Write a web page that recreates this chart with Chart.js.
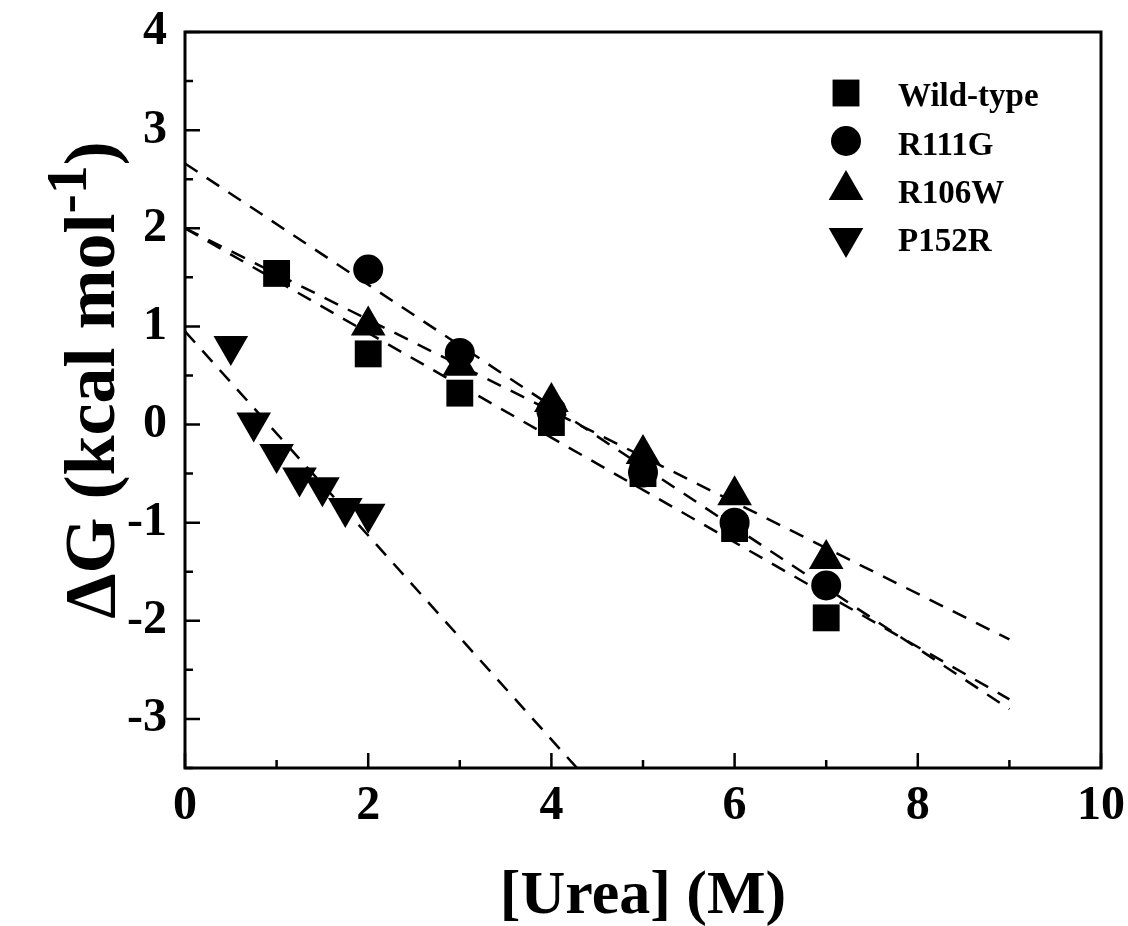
<!DOCTYPE html>
<html>
<head>
<meta charset="utf-8">
<script src="https://cdn.jsdelivr.net/npm/chart.js@4.4.0/dist/chart.umd.min.js"></script>
<style>
  html, body { margin: 0; padding: 0; background: #fff; }
  #wrap { width: 1128px; height: 926px; }
</style>
</head>
<body>
<div id="wrap"><canvas id="chart" width="1128" height="926"></canvas></div>
<script>
// values
const wtUrea = [1, 2, 3, 4, 5, 6, 7];
const wildType = [1.54, 0.72, 0.32, 0.02, -0.50, -1.06, -1.97];
const r111gUrea = [2, 3, 4, 5, 6, 7];
const r111g = [1.58, 0.73, 0.14, -0.49, -1.00, -1.64];
const r106wUrea = [2, 3, 4, 5, 6, 7];
const r106w = [1.01, 0.60, 0.23, -0.30, -0.72, -1.37];
const p152rUrea = [0.5, 0.75, 1.0, 1.25, 1.5, 1.75, 2.0];
const p152r = [0.80, 0.02, -0.30, -0.54, -0.64, -0.85, -0.91];

// dashed fit lines (end points)
const fitUrea = [0, 9];
const wtFit = [2.00, -2.80];
const r111gFit = [2.66, -2.90];
const r106wFit = [2.00, -2.19];
const p152rFitUrea = [0, 4.5];
const p152rFit = [0.95, -3.73];

const seriesNames = ['Wild-type', 'R111G', 'R106W', 'P152R'];

const serif = "'Liberation Serif', 'Times New Roman', serif";

function pts(xs, ys) {
    return xs.map((x, i) => ({ x: x, y: ys[i] }));
}

function markerSet(label, xs, ys, style, radius, rotation) {
    return {
        label: label,
        data: pts(xs, ys),
        pointStyle: style,
        pointRadius: radius,
        pointRotation: rotation || 0,
        pointBackgroundColor: '#000',
        pointBorderColor: '#000',
        pointBorderWidth: 0,
        showLine: false,
        order: 0
    };
}

function fitSet(xs, ys) {
    return {
        label: 'fit',
        data: pts(xs, ys),
        showLine: true,
        borderColor: '#000',
        borderWidth: 2.5,
        borderDash: [15, 11],
        pointRadius: 0,
        fill: false,
        order: 1
    };
}

const markers = [
    markerSet(seriesNames[0], wtUrea, wildType, 'rect', 19),
    markerSet(seriesNames[1], r111gUrea, r111g, 'circle', 15),
    markerSet(seriesNames[2], r106wUrea, r106w, 'triangle', 20),
    markerSet(seriesNames[3], p152rUrea, p152r, 'triangle', 20, 180)
];

const fits = [
    fitSet(fitUrea, wtFit),
    fitSet(fitUrea, r111gFit),
    fitSet(fitUrea, r106wFit),
    fitSet(p152rFitUrea, p152rFit)
];

function drawMarker(ctx, style, radius, rotation, x, y) {
    if (Chart.helpers && Chart.helpers.drawPoint) {
        Chart.helpers.drawPoint(ctx, { pointStyle: style, radius: radius, rotation: rotation || 0, borderWidth: 0 }, x, y);
    }
}

// frame, inward ticks, axis titles and legend
const decorations = {
    id: 'decorations',
    afterDraw(chart) {
        const ctx = chart.ctx;
        const a = chart.chartArea;
        const xs = chart.scales.x;
        const ys = chart.scales.y;
        ctx.save();
        ctx.strokeStyle = '#000';
        ctx.lineWidth = 3;
        ctx.strokeRect(a.left, a.top, a.right - a.left, a.bottom - a.top);

        ctx.lineWidth = 2.5;
        ctx.beginPath();
        xs.ticks.forEach(t => {
            const px = xs.getPixelForValue(t.value);
            const len = t.value % 2 === 0 ? 15 : 8;
            ctx.moveTo(px, a.bottom);
            ctx.lineTo(px, a.bottom - len);
        });
        ys.ticks.forEach(t => {
            const py = ys.getPixelForValue(t.value);
            const len = Number.isInteger(t.value) ? 15 : 8;
            ctx.moveTo(a.left, py);
            ctx.lineTo(a.left + len, py);
        });
        ctx.stroke();

        ctx.fillStyle = '#000';
        // x title
        ctx.font = 'bold 62px ' + serif;
        ctx.textAlign = 'center';
        ctx.textBaseline = 'alphabetic';
        ctx.fillText('[Urea] (M)', (a.left + a.right) / 2, 913);

        // y title with superscript
        ctx.save();
        ctx.translate(114, 380);
        ctx.rotate(-Math.PI / 2);
        const mainFont = 'bold 72px ' + serif;
        const supFont = 'bold 58px ' + serif;
        const p1 = '\u0394G (kcal mol';
        const p2 = '-1';
        const p3 = ')';
        ctx.font = mainFont;
        const w1 = ctx.measureText(p1).width;
        const w3 = ctx.measureText(p3).width;
        ctx.font = supFont;
        const w2 = ctx.measureText(p2).width;
        let x0 = -(w1 + w2 + w3) / 2;
        ctx.textAlign = 'left';
        ctx.font = mainFont;
        ctx.fillText(p1, x0, 0);
        ctx.font = supFont;
        ctx.fillText(p2, x0 + w1, -28);
        ctx.font = mainFont;
        ctx.fillText(p3, x0 + w1 + w2, 0);
        ctx.restore();

        // legend
        ctx.font = 'bold 33px ' + serif;
        ctx.textAlign = 'left';
        ctx.textBaseline = 'alphabetic';
        const rowY = [93, 141, 190, 238];
        const baseY = [106, 155, 203, 251];
        markers.forEach((ds, i) => {
            drawMarker(ctx, ds.pointStyle, ds.pointRadius, ds.pointRotation, 846, rowY[i]);
            ctx.fillText(ds.label, 898, baseY[i]);
        });
        ctx.restore();
    }
};

new Chart(document.getElementById('chart'), {
    type: 'scatter',
    data: { datasets: markers.concat(fits) },
    options: {
        responsive: false,
        animation: false,
        layout: { padding: { left: 0, right: 27, top: 32, bottom: 0 } },
        plugins: {
            legend: { display: false },
            tooltip: { enabled: false }
        },
        scales: {
            x: {
                type: 'linear',
                min: 0,
                max: 10,
                grid: { display: false, drawTicks: false },
                border: { display: false },
                ticks: {
                    stepSize: 1,
                    padding: 10,
                    color: '#000',
                    font: { family: serif, size: 48, weight: 'bold' },
                    maxRotation: 0,
                    autoSkip: false,
                    callback: v => (v % 2 === 0 ? String(v) : '')
                },
                afterFit: s => {
                    s.height = 158;
                    s.paddingLeft = 0;
                    s.paddingRight = 0;
                }
            },
            y: {
                type: 'linear',
                min: -3.5,
                max: 4,
                grid: { display: false, drawTicks: false },
                border: { display: false },
                ticks: {
                    stepSize: 0.5,
                    padding: 18,
                    color: '#000',
                    font: { family: serif, size: 48, weight: 'bold' },
                    autoSkip: false,
                    callback: v => (Number.isInteger(v) ? String(v) : '')
                },
                afterFit: s => {
                    s.width = 185;
                    s.paddingTop = 0;
                    s.paddingBottom = 0;
                }
            }
        }
    },
    plugins: [decorations]
});
</script>
</body>
</html>
